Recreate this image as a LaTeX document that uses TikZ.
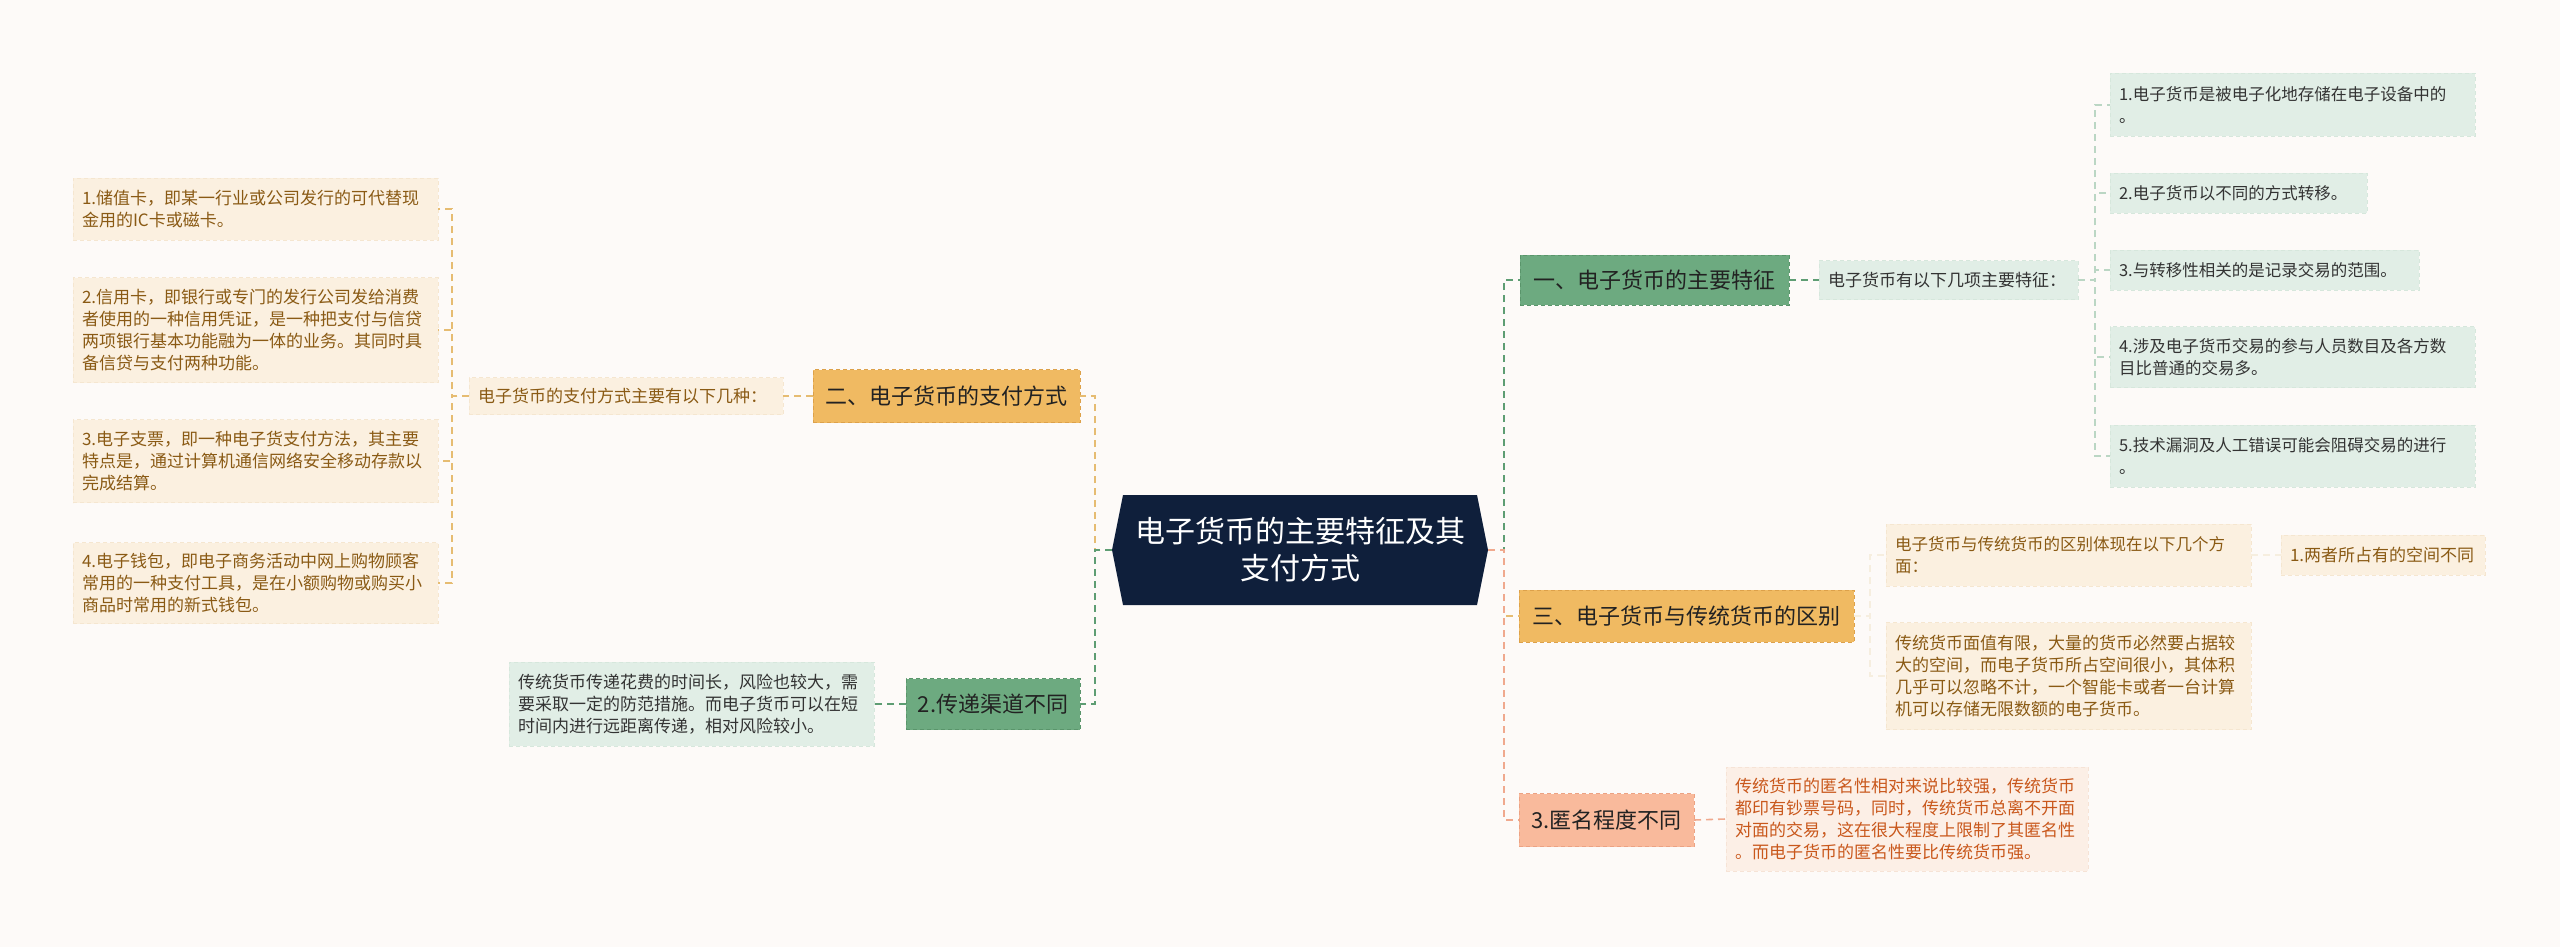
\documentclass[tikz,border=0pt]{standalone}
\usepackage{fontspec}
\setmainfont{Noto Sans CJK SC}
\definecolor{bg}{HTML}{FDFAF8}
\definecolor{navy}{HTML}{0F1F3B}
\definecolor{gmain}{HTML}{6DAA80}
\definecolor{gmainb}{HTML}{5A956B}
\definecolor{glight}{HTML}{E1EEE6}
\definecolor{glightb}{HTML}{D6E7DC}
\definecolor{gline}{HTML}{5E9D73}
\definecolor{gtext}{HTML}{333333}
\definecolor{omain}{HTML}{F0BA62}
\definecolor{omainb}{HTML}{DDA14A}
\definecolor{olight}{HTML}{FBF0E0}
\definecolor{olightb}{HTML}{F5E6D0}
\definecolor{oline}{HTML}{E6BC72}
\definecolor{otext}{HTML}{8A5A14}
\definecolor{smain}{HTML}{F9BA9C}
\definecolor{smainb}{HTML}{ECA283}
\definecolor{slight}{HTML}{FCEFE6}
\definecolor{slightb}{HTML}{F6E3D6}
\definecolor{sline}{HTML}{F0A98E}
\definecolor{stext}{HTML}{C9581C}
\definecolor{maintext}{HTML}{222222}
\tikzset{
  nodebase/.style={rectangle, inner ysep=0pt, outer sep=0pt},
  leafbox/.style={nodebase, inner xsep=9pt, align=left, font=\fontsize{17}{22}\selectfont, dash pattern=on 4pt off 3pt, line width=0.6pt},
  smallfont/.style={font=\fontsize{16.5}{22}\selectfont},
  gleaf/.style={leafbox, fill=glight, draw=glightb, text=gtext},
  oleaf/.style={leafbox, fill=olight, draw=olightb, text=otext},
  sleaf/.style={leafbox, fill=slight, draw=slightb, text=stext},
  mainbox/.style={nodebase, inner xsep=0pt, align=center, font=\fontsize{22}{28}\selectfont, dash pattern=on 4pt off 3pt, line width=1pt, text=maintext},
  gmainn/.style={mainbox, fill=gmain, draw=gmainb},
  omainn/.style={mainbox, fill=omain, draw=omainb},
  smainn/.style={mainbox, fill=smain, draw=smainb},
  conn/.style={line width=1.6pt, dash pattern=on 7pt off 5pt},
}
\begin{document}
\begin{tikzpicture}[x=1pt,y=-1pt]
\useasboundingbox (0,0) rectangle (2560,947);
\fill[bg] (0,0) rectangle (2560,947);

% root
\fill[navy] (1123,495) -- (1477,495) -- (1488,550) -- (1477,605) -- (1123,605) -- (1112,550) -- cycle;
\coordinate (cL) at (1112,550);
\coordinate (cR) at (1488,550);
\node[align=center, text=white, font=\fontsize{30}{37}\selectfont, inner sep=0pt] (root) at (1300,550) {电子货币的主要特征及其\\支付方式};

% ---------- right: branch 1 (green)
\node[gmainn, minimum width=269pt, minimum height=50pt, anchor=west] (n1) at (1520,280) {一、电子货币的主要特征};
\node[gleaf, text width=241pt, minimum height=39pt, anchor=west] (t1) at (1819,280) {电子货币有以下几项主要特征：};
\node[gleaf, smallfont, text width=347pt, minimum height=63pt, anchor=west] (r1) at (2110,105) {1.电子货币是被电子化地存储在电子设备中的\\。};
\node[gleaf, smallfont, text width=239pt, minimum height=40pt, anchor=west] (r2) at (2110,193) {2.电子货币以不同的方式转移。};
\node[gleaf, smallfont, text width=291pt, minimum height=40pt, anchor=west] (r3) at (2110,270) {3.与转移性相关的是记录交易的范围。};
\node[gleaf, smallfont, text width=347pt, minimum height=61pt, anchor=west] (r4) at (2110,357) {4.涉及电子货币交易的参与人员数目及各方数\\目比普通的交易多。};
\node[gleaf, smallfont, text width=347pt, minimum height=62pt, anchor=west] (r5) at (2110,456) {5.技术漏洞及人工错误可能会阻碍交易的进行\\。};

% ---------- right: branch 3 (orange)
\node[omainn, minimum width=335pt, minimum height=52pt, anchor=west] (n3) at (1519,616) {三、电子货币与传统货币的区别};
\node[oleaf, smallfont, text width=347pt, minimum height=62pt, anchor=west] (s1) at (1886,555) {电子货币与传统货币的区别体现在以下几个方\\面：};
\node[oleaf, text width=347pt, minimum height=107pt, anchor=west] (s2) at (1886,676) {传统货币面值有限，大量的货币必然要占据较\\大的空间，而电子货币所占空间很小，其体积\\几乎可以忽略不计，一个智能卡或者一台计算\\机可以存储无限数额的电子货币。};
\node[oleaf, text width=186pt, minimum height=40pt, anchor=west] (s1a) at (2281,555) {1.两者所占有的空间不同};

% ---------- right: branch 4 (salmon)
\node[smainn, minimum width=175pt, minimum height=53pt, anchor=west] (n4) at (1519,820) {3.匿名程度不同};
\node[sleaf, text width=344pt, minimum height=104pt, anchor=west] (t4) at (1726,819) {传统货币的匿名性相对来说比较强，传统货币\\都印有钞票号码，同时，传统货币总离不开面\\对面的交易，这在很大程度上限制了其匿名性\\。而电子货币的匿名性要比传统货币强。};

% ---------- left: branch 2 (orange)
\node[omainn, minimum width=267pt, minimum height=53pt, anchor=west] (n2) at (813,396) {二、电子货币的支付方式};
\node[oleaf, text width=296pt, minimum height=37pt, anchor=west] (t2) at (469,396) {电子货币的支付方式主要有以下几种：};
\node[oleaf, text width=347pt, minimum height=62pt, anchor=west] (l1) at (73,209) {1.储值卡，即某一行业或公司发行的可代替现\\金用的IC卡或磁卡。};
\node[oleaf, text width=347pt, minimum height=105pt, anchor=west] (l2) at (73,330) {2.信用卡，即银行或专门的发行公司发给消费\\者使用的一种信用凭证，是一种把支付与信贷\\两项银行基本功能融为一体的业务。其同时具\\备信贷与支付两种功能。};
\node[oleaf, text width=347pt, minimum height=83pt, anchor=west] (l3) at (73,461) {3.电子支票，即一种电子货支付方法，其主要\\特点是，通过计算机通信网络安全移动存款以\\完成结算。};
\node[oleaf, text width=347pt, minimum height=81pt, anchor=west] (l4) at (73,583) {4.电子钱包，即电子商务活动中网上购物顾客\\常用的一种支付工具，是在小额购物或购买小\\商品时常用的新式钱包。};

% ---------- left: branch 5 (green)
\node[gmainn, minimum width=174pt, minimum height=51pt, anchor=west] (m2) at (906,704) {2.传递渠道不同};
\node[gleaf, text width=347pt, minimum height=84pt, anchor=west] (tm2) at (509,704) {传统货币传递花费的时间长，风险也较大，需\\要采取一定的防范措施。而电子货币可以在短\\时间内进行远距离传递，相对风险较小。};

% ---------- connectors right
\draw[conn, draw=gline] (cR) -- ++(16,0) |- (n1.west);
\draw[conn, draw=gline] (n1.east) -- (t1.west);
\foreach \r in {r1,r2,r3,r4,r5}
  \draw[conn, draw=glightb!40!gline!60] (t1.east) -- ++(17,0) |- (\r.west);
\draw[conn, draw=oline] (cR) -- ++(16,0) |- (n3.west);
\draw[conn, draw=oline!80!otext!20] (n3.east) -- ++(16,0) |- (s1.west);
\draw[conn, draw=oline!80!otext!20] (n3.east) -- ++(16,0) |- (s2.west);
\draw[conn, draw=oline!80!otext!20] (s1.east) -- (s1a.west);
\draw[conn, draw=sline] (cR) -- ++(16,0) |- (n4.west);
\draw[conn, draw=sline] (n4.east) -- (t4.west);

% ---------- connectors left
\draw[conn, draw=oline] (cL) -- ++(-17,0) |- (n2.east);
\draw[conn, draw=oline] (n2.west) -- (t2.east);
\foreach \l in {l1,l2,l3,l4}
  \draw[conn, draw=oline] (t2.west) -- ++(-17,0) |- (\l.east);
\draw[conn, draw=gline] (cL) -- ++(-17,0) |- (m2.east);
\draw[conn, draw=gline] (m2.west) -- (tm2.east);
\end{tikzpicture}
\end{document}
